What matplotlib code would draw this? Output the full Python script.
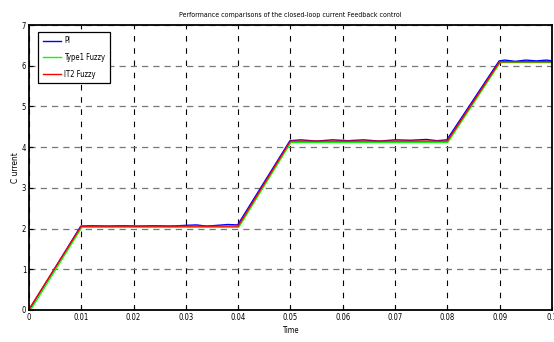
import numpy as np
import matplotlib.pyplot as plt

plt.rcParams['font.family'] = ['DejaVu Sans']
plt.rcParams['font.stretch'] = 'condensed'

# IT2 fuzzy response (breakpoints)
t_it2 = [0.0, 0.0005, 0.01, 0.04, 0.05, 0.08, 0.09, 0.1]
i_it2 = [0.0, 0.12, 2.06, 2.06, 4.15, 4.15, 6.10, 6.10]

# Type-1 fuzzy response (slightly lagging, slightly lower)
t_t1 = [0.0, 0.0006, 0.0101, 0.0401, 0.0501, 0.0801, 0.0901, 0.1]
i_t1 = [0.0, 0.06, 2.03, 2.03, 4.12, 4.12, 6.08, 6.08]

# PI response with ripple on the flat parts
t_pi = [0.0, 0.0005, 0.0099, 0.012, 0.015, 0.018, 0.021, 0.024, 0.027, 0.030,
        0.032, 0.034, 0.036, 0.038, 0.0399, 0.0499, 0.052, 0.055, 0.058, 0.061,
        0.064, 0.067, 0.070, 0.073, 0.076, 0.078, 0.0799, 0.0899, 0.091, 0.093,
        0.095, 0.097, 0.099, 0.1]
i_pi = [0.0, 0.10, 2.06, 2.07, 2.06, 2.07, 2.06, 2.07, 2.06, 2.08,
        2.09, 2.06, 2.08, 2.10, 2.09, 4.16, 4.18, 4.15, 4.18, 4.16,
        4.18, 4.15, 4.18, 4.17, 4.19, 4.16, 4.18, 6.12, 6.14, 6.11,
        6.14, 6.12, 6.14, 6.12]

fig = plt.figure(figsize=(5.54, 3.42), dpi=100)
ax = fig.add_axes([0.0523, 0.0936, 0.944, 0.833])

ax.plot(t_pi, i_pi, color='#0000ff', lw=1.0, label='PI')
ax.plot(t_t1, i_t1, color='#00ff00', lw=1.0, label='Type1 Fuzzy')
ax.plot(t_it2, i_it2, color='#ff0000', lw=1.0, label='IT2 Fuzzy')

ax.set_xlim(0, 0.1)
ax.set_ylim(0, 7)
ax.set_xticks(np.arange(0, 0.1001, 0.01))
ax.set_xticklabels(['0', '0.01', '0.02', '0.03', '0.04', '0.05',
                    '0.06', '0.07', '0.08', '0.09', '0.1'])
ax.set_yticks(range(8))
ax.tick_params(labelsize=5.5, direction='in', length=3, width=0.8, pad=2)

ax.xaxis.grid(True, color='black', ls=(0, (5, 6)), lw=0.8)
ax.yaxis.grid(True, color='#777777', ls=(0, (5, 4)), lw=0.9)
for s in ax.spines.values():
    s.set_linewidth(1.3)

ax.set_title('Performance comparisons of the closed-loop current Feedback control',
             fontsize=5.0, pad=6)
ax.set_xlabel('Time', fontsize=5.5, labelpad=3)
ax.set_ylabel('C urrent', fontsize=6, labelpad=1)

leg = ax.legend(loc='upper left', fontsize=5.5, fancybox=False, edgecolor='black',
                framealpha=1, handlelength=2.4, handletextpad=0.4, borderpad=0.6,
                labelspacing=1.0, bbox_to_anchor=(0.01, 0.99))
leg.get_frame().set_linewidth(0.9)

fig.savefig('out.png', dpi=100)
